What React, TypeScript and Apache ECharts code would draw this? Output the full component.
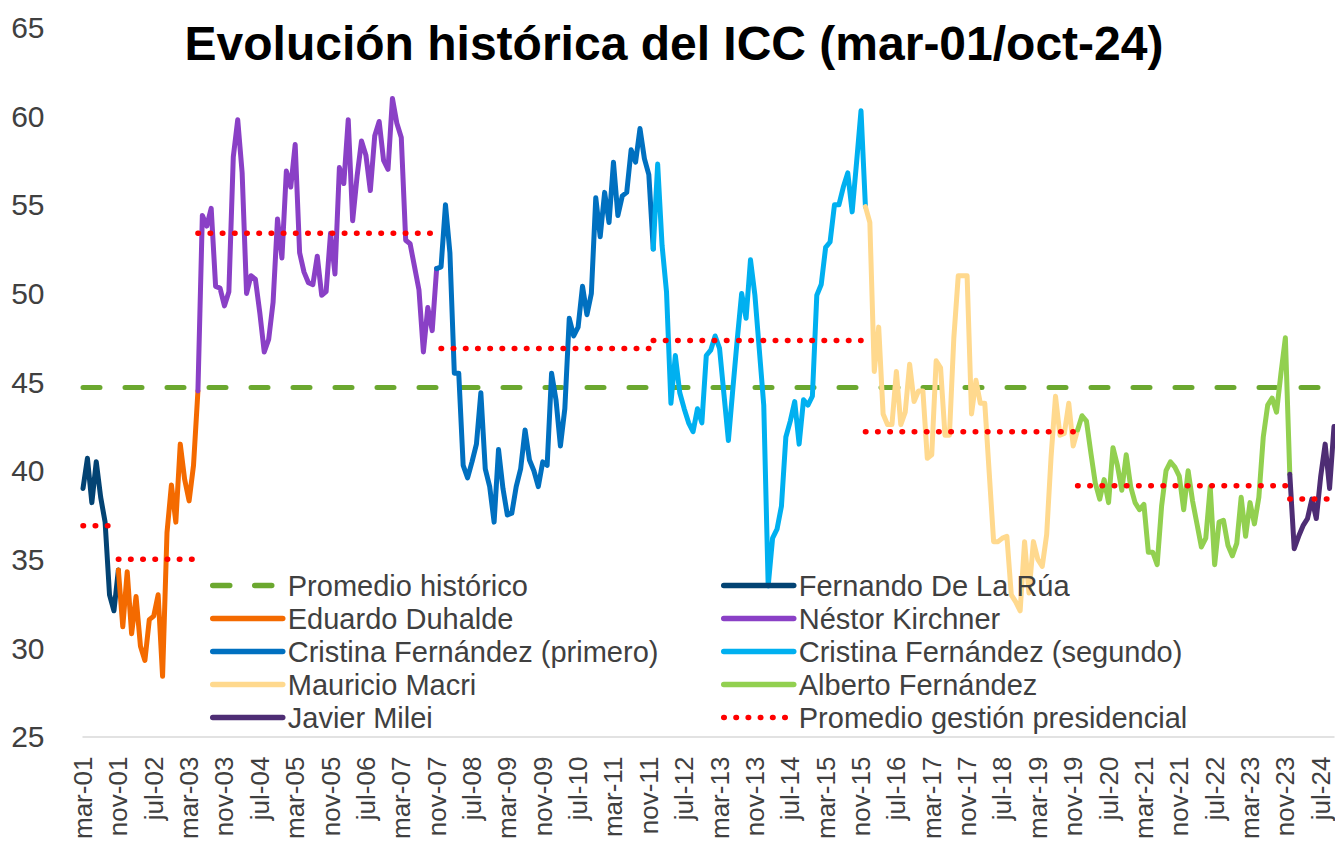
import { useEffect, useRef } from "react";
import * as echarts from "echarts";

// ---------- DATA ----------
const monthNames = ["ene", "feb", "mar", "abr", "may", "jun", "jul", "ago", "sep", "oct", "nov", "dic"];
const firstYear = 2001;
const firstMonth = 2; // mar
const monthCount = 284; // mar-01 .. oct-24
const categories: string[] = Array.from({ length: monthCount }, (_, i) => {
  const m = firstMonth + i;
  const yy = (firstYear + Math.floor(m / 12)) % 100;
  return `${monthNames[m % 12]}-${String(yy).padStart(2, "0")}`;
});

const historicAverage = 44.7;

// Índice de Confianza del Consumidor per presidency (first value = month index in presidentStart)
const deLaRua = [39.0, 40.7, 38.2, 40.5, 38.5, 37.1, 33.0, 32.1, 34.4];
const duhalde = [34.4, 31.2, 34.3, 30.8, 32.9, 30.1, 29.3, 31.6, 31.8, 33.0, 28.4, 36.5, 39.2, 37.1, 41.5, 39.5, 38.3, 40.3, 44.5];
const kirchner = [
  44.5, 54.4, 53.8, 54.8, 50.4, 50.3, 49.3, 50.1, 57.7, 59.8,
  56.8, 50.0, 51.0, 50.8, 48.9, 46.7, 47.4, 49.5, 54.2, 52.0,
  56.9, 56.0, 58.4, 52.3, 51.2, 50.6, 50.5, 52.1, 49.9, 50.1,
  53.4, 51.1, 57.1, 56.2, 59.8, 54.1, 56.6, 58.6, 57.8, 55.8,
  58.9, 59.7, 57.5, 57.0, 61.0, 59.6, 58.8, 53.0, 52.8, 51.5,
  50.2, 46.7, 49.2, 47.9, 51.4,
];
const cfk1 = [
  51.4, 51.5, 55.0, 52.3, 45.5, 45.5, 40.3, 39.6, 40.5, 41.5,
  44.4, 40.1, 39.1, 37.1, 41.2, 39.0, 37.5, 37.6, 39.1, 40.1,
  42.3, 40.6, 40.0, 39.1, 40.5, 40.3, 45.5, 44.0, 41.4, 43.5,
  48.6, 47.6, 48.1, 50.4, 48.8, 50.0, 55.4, 53.2, 55.7, 54.0,
  57.4, 54.4, 55.5, 55.7, 58.1, 57.4, 59.3, 57.6, 56.7, 52.5,
];
const cfk2 = [
  52.5, 57.3, 52.7, 50.1, 43.8, 46.5, 44.4, 43.5, 42.7, 42.2,
  43.5, 42.7, 46.5, 46.8, 47.6, 46.9, 44.3, 41.7, 44.6, 47.4,
  50.0, 48.6, 51.9, 49.9, 46.8, 43.7, 33.5, 36.2, 36.7, 38.0,
  41.9, 42.8, 43.9, 41.5, 44.0, 43.7, 44.2, 49.9, 50.5, 52.6,
  52.9, 55.0, 55.0, 56.0, 56.8, 54.6, 57.4, 60.3, 54.9,
];
const macri = [
  54.9, 54.0, 45.6, 48.1, 43.2, 42.6, 42.6, 45.6, 42.6, 43.3,
  46.0, 43.9, 44.5, 44.5, 40.7, 40.9, 46.2, 45.8, 42.0, 42.0,
  47.5, 51.0, 51.0, 51.0, 43.2, 45.1, 43.8, 43.8, 39.9, 36.0,
  36.0, 36.2, 36.3, 33.0, 32.6, 32.1, 36.0, 33.1, 36.0, 35.0,
  34.6, 36.4, 40.8, 44.2, 42.0, 42.1, 43.8, 41.4, 42.3,
];
const alberto = [
  42.3, 43.1, 42.8, 41.0, 39.3, 38.4, 39.5, 38.2, 41.3, 40.3,
  38.9, 40.9, 39.1, 38.2, 37.8, 38.1, 35.4, 35.4, 34.7, 38.0,
  40.0, 40.5, 40.2, 39.7, 37.8, 40.0, 38.3, 37.0, 35.7, 36.2,
  39.1, 34.7, 37.1, 37.2, 35.8, 35.2, 35.9, 38.5, 36.3, 38.2,
  37.0, 38.5, 41.9, 43.7, 44.1, 43.3, 45.5, 47.5, 39.8,
];
const milei = [39.8, 35.6, 36.3, 36.9, 37.3, 38.4, 37.3, 39.7, 41.5, 39.0, 42.5];

const presidentNames = [
  "Fernando De La Rúa",
  "Eduardo Duhalde",
  "Néstor Kirchner",
  "Cristina Fernández (primero)",
  "Cristina Fernández (segundo)",
  "Mauricio Macri",
  "Alberto Fernández",
  "Javier Milei",
];
const presidentValues = [deLaRua, duhalde, kirchner, cfk1, cfk2, macri, alberto, milei];
const presidentStart = [0, 8, 26, 80, 129, 177, 225, 273];

// Average of each presidency (red dotted segments)
const periodStart = [0, 8, 26, 81, 129, 177, 225, 273];
const periodEnd = [7, 25, 80, 128, 176, 224, 272, 283];
const periodAverage = [36.9, 35.0, 53.4, 46.9, 47.35, 42.2, 39.15, 38.4];

const yTicks = { min: 25, max: 65, interval: 5 };

// ---------- STYLES ----------
const FONT = "'Liberation Sans', Arial, Helvetica, sans-serif";
const presidentColors = ["#034373", "#F46A00", "#8A40C6", "#0070C0", "#00B0F0", "#FFD98E", "#92D050", "#4E2D74"];
const historicColor = "#6BA82F";
const avgColor = "#FF0000";
const textColor = "#404040";

function place(start: number, values: number[]): (number | null)[] {
  const arr: (number | null)[] = new Array(monthCount).fill(null);
  values.forEach((v, i) => {
    arr[start + i] = v;
  });
  return arr;
}

export default function App() {
  const ref = useRef<HTMLDivElement>(null);

  useEffect(() => {
    if (!ref.current) return;
    const chart = echarts.init(ref.current, undefined, { renderer: "svg" });

    const series: any[] = [];
    series.push({
      name: "Promedio histórico",
      type: "line",
      data: new Array(monthCount).fill(historicAverage),
      symbol: "none",
      clip: false,
      lineStyle: { color: historicColor, width: 5, type: [17, 25], cap: "round" },
      itemStyle: { color: historicColor },
      z: 1,
    });
    presidentNames.forEach((name, k) => {
      series.push({
        name,
        type: "line",
        data: place(presidentStart[k], presidentValues[k]),
        symbol: "none",
        clip: false,
        connectNulls: false,
        lineStyle: { color: presidentColors[k], width: 5, cap: "round", join: "round" },
        itemStyle: { color: presidentColors[k] },
        z: 2,
      });
    });
    periodAverage.forEach((avg, k) => {
      series.push({
        name: "Promedio gestión presidencial",
        type: "line",
        data: place(periodStart[k], new Array(periodEnd[k] - periodStart[k] + 1).fill(avg)),
        symbol: "none",
        clip: false,
        lineStyle: { color: avgColor, width: 5.5, type: [0.5, 11.7], cap: "round" },
        itemStyle: { color: avgColor },
        z: 3,
      });
    });

    const legendText = { fontSize: 29, color: textColor, fontFamily: FONT, lineHeight: 33 };
    const legendCommon = {
      orient: "vertical",
      top: 569,
      padding: 0,
      itemGap: 0,
      itemWidth: 70,
      itemHeight: 14,
      textStyle: legendText,
      lineStyle: { width: 5.5 },
      itemStyle: { opacity: 0, borderWidth: 0 },
      selectedMode: false,
    };

    chart.setOption({
      animation: false,
      textStyle: { fontFamily: FONT },
      title: {
        text: "Evolución histórica del ICC (mar-01/oct-24)",
        left: 669,
        top: 14,
        textAlign: "center",
        textStyle: { fontSize: 48, fontWeight: "bold", color: "#000000", fontFamily: FONT },
      },
      grid: { left: 83, right: 1, top: 27.5, bottom: 104.5, containLabel: false },
      legend: [
        {
          ...legendCommon,
          left: 210,
          data: ["Promedio histórico", "Eduardo Duhalde", "Cristina Fernández (primero)", "Mauricio Macri", "Javier Milei"],
        },
        {
          ...legendCommon,
          left: 721,
          data: ["Fernando De La Rúa", "Néstor Kirchner", "Cristina Fernández (segundo)", "Alberto Fernández", "Promedio gestión presidencial"],
        },
      ],
      xAxis: {
        type: "category",
        data: categories,
        boundaryGap: false,
        axisLine: { show: true, lineStyle: { color: "#D9D9D9", width: 1.5 } },
        axisTick: { show: false },
        splitLine: { show: false },
        axisLabel: {
          interval: 7,
          rotate: 90,
          fontSize: 26,
          color: textColor,
          margin: 20,
          fontFamily: FONT,
        },
      },
      yAxis: {
        type: "value",
        min: yTicks.min,
        max: yTicks.max,
        interval: yTicks.interval,
        axisLine: { show: false },
        axisTick: { show: false },
        splitLine: { show: false },
        axisLabel: { fontSize: 30, color: textColor, margin: 38.5, fontFamily: FONT },
      },
      series,
    });

    return () => {
      chart.dispose();
    };
  }, []);

  return (
    <div
      ref={ref}
      style={{ position: "absolute", left: 0, top: 0, width: 1335, height: 842, background: "#ffffff" }}
    />
  );
}
